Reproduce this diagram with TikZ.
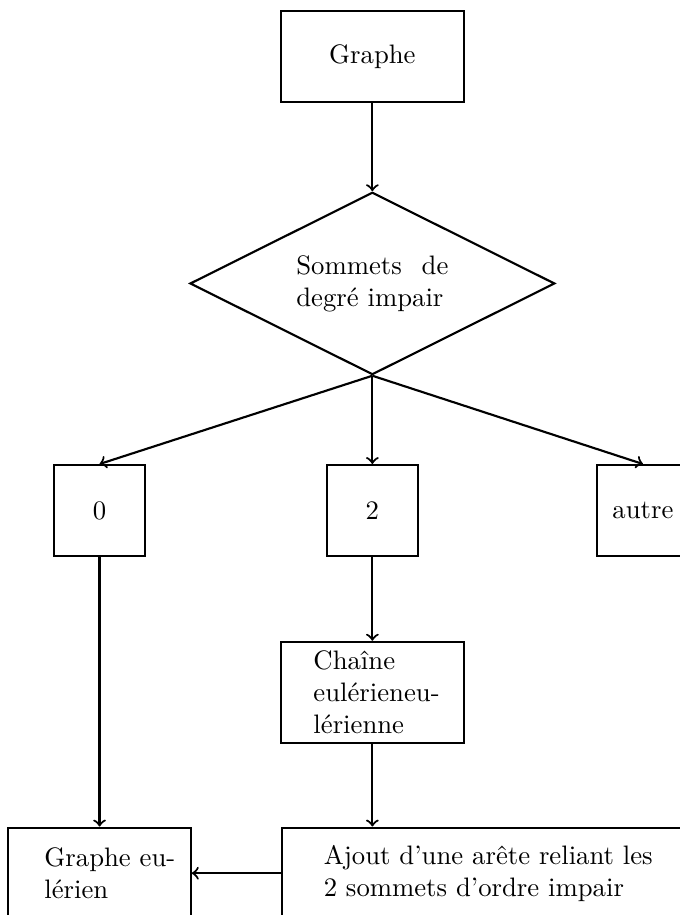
\documentclass[tikz,border=0pt]{standalone}
\usetikzlibrary{shapes.geometric}
\begin{document}
\begin{tikzpicture}[thick,
	boite/.style={draw, minimum width=2.4cm, minimum height=1.2cm},
	carre/.style={draw, minimum size=1.2cm},
	test/.style={draw, diamond, aspect=2, minimum width=4.8cm, minimum height=2.4cm, text width=2cm, align=left}]
	\useasboundingbox (0,0) rectangle (8.947,-12.04);
	\clip (0,0) rectangle (8.947,-12.04);
	\node[boite] (graphe) at (4.9,-0.74) {Graphe};
	\node[test] (degre) at (4.9,-3.73) {Sommets\hfill de\\degré impair};
	\node[carre] (zero) at (1.31,-6.72) {0};
	\node[carre] (deux) at (4.9,-6.72) {2};
	\node[carre] (autre) at (8.46,-6.72) {autre};
	\node[boite, text width=1.55cm, align=left] (chaine) at (4.9,-9.11) {Chaîne\\\mbox{eulérieneu-}\\lérienne};
	\node[boite, text width=1.45cm, align=left] (eulerien) at (1.31,-11.49) {\mbox{Graphe eu-}\\lérien};
	\node[boite, minimum width=5.6cm, text width=4.5cm, align=left] (ajout) at (6.51,-11.49) {Ajout d'une arête reliant les\\2 sommets d'ordre impair};
	\draw[->] (graphe) -- (degre);
	\draw[->] (degre.south) -- (zero.north);
	\draw[->] (degre.south) -- (deux.north);
	\draw[->] (degre.south) -- (autre.north);
	\draw[->] (zero) -- (eulerien);
	\draw[->] (deux) -- (chaine);
	\draw[->] (chaine) -- (ajout.north -| chaine);
	\draw[->] (ajout) -- (eulerien);
\end{tikzpicture}
\end{document}
